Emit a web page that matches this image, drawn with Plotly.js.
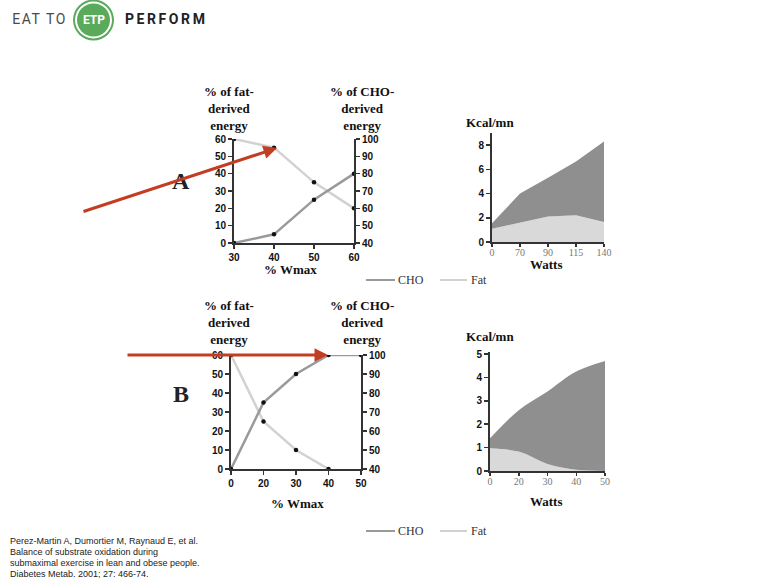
<!DOCTYPE html>
<html><head><meta charset="utf-8">
<script src="https://cdn.plot.ly/plotly-3.0.1.min.js"></script>
<style>
html,body{margin:0;padding:0;background:#fff;}
#chart{width:770px;height:579px;}
g.annotation[data-index="0"] text{letter-spacing:1.6px;}
g.annotation[data-index="2"] text{letter-spacing:2.6px;}
</style>
</head><body><div id="chart"></div>
<script>
// ---- data ----
const lineA_x = [30, 40, 50, 60];
const lineA_fat = [60, 55, 35, 20];
const lineA_cho = [40, 45, 65, 80];

const lineB_x = ['0', '20', '30', '40', '50'];
const lineB_fat = [60, 25, 10, 0];
const lineB_cho = [40, 75, 90, 100, 100];

const areaA_x = ['0', '70', '90', '115', '140'];
const areaA_fat = [1.1, 1.6, 2.1, 2.2, 1.65];
const areaA_cho = [0.45, 2.4, 3.2, 4.45, 6.65];

const areaB_x = ['0', '20', '30', '40', '50'];
const areaB_fat = [0.97, 0.83, 0.3, 0.05, 0];
const areaB_cho = [0.43, 1.77, 3.1, 4.2, 4.7];

const fatTicks = [0, 10, 20, 30, 40, 50, 60];
const choTicks = [40, 50, 60, 70, 80, 90, 100];
const lineA_ticks = [30, 40, 50, 60];
const areaA_yticks = [0, 2, 4, 6, 8];
const areaB_yticks = [0, 1, 2, 3, 4, 5];

const citation = [
  'Perez-Martin A, Dumortier M, Raynaud E, et al.',
  'Balance of substrate oxidation during',
  'submaximal exercise in lean and obese people.',
  'Diabetes Metab. 2001; 27: 466-74.'
];

// ---- helpers ----
const W = 770, H = 579;
const px = v => v / W;
const py = v => 1 - v / H;
const FAT = '#d2d2d2', CHO = '#9a9a9a', DARKFILL = '#8f8f8f', LIGHTFILL = '#d9d9d9';
const tickFont = {family: 'Liberation Sans, Arial, sans-serif', size: 10, color: '#111', weight: 'bold'};
const serifB = {family: 'Liberation Serif, Times New Roman, serif', size: 13, color: '#111', weight: 'bold'};

function axisBase(extra) {
  return Object.assign({
    showline: true, linecolor: '#333', linewidth: 2, ticks: 'outside', ticklen: 4,
    tickwidth: 1.5, tickcolor: '#333', showgrid: false, zeroline: false,
    tickfont: tickFont, fixedrange: true
  }, extra);
}

const mk = {color: '#111', size: 4.5};
const traces = [
  {x: lineA_x, y: lineA_fat, xaxis: 'x', yaxis: 'y', mode: 'lines+markers',
   line: {color: FAT, width: 2.5}, marker: mk, hoverinfo: 'skip'},
  {x: lineA_x, y: lineA_cho, xaxis: 'x', yaxis: 'y2', mode: 'lines+markers',
   line: {color: CHO, width: 2.5}, marker: mk, hoverinfo: 'skip'},
  {x: lineB_x.slice(0, lineB_fat.length), y: lineB_fat, xaxis: 'x2', yaxis: 'y3', mode: 'lines+markers',
   line: {color: FAT, width: 2.5}, marker: mk, hoverinfo: 'skip'},
  {x: lineB_x, y: lineB_cho, xaxis: 'x2', yaxis: 'y4', mode: 'lines+markers',
   line: {color: CHO, width: 2.5}, marker: mk, hoverinfo: 'skip'},
  {x: areaA_x, y: areaA_fat, xaxis: 'x3', yaxis: 'y5', stackgroup: 'a', mode: 'lines',
   line: {width: 0, color: LIGHTFILL}, fillcolor: LIGHTFILL, hoverinfo: 'skip'},
  {x: areaA_x, y: areaA_cho, xaxis: 'x3', yaxis: 'y5', stackgroup: 'a', mode: 'lines',
   line: {width: 0, color: DARKFILL}, fillcolor: DARKFILL, hoverinfo: 'skip'},
  {x: areaB_x, y: areaB_fat, xaxis: 'x4', yaxis: 'y6', stackgroup: 'b', mode: 'lines',
   line: {width: 0, color: LIGHTFILL, shape: 'spline'}, fillcolor: LIGHTFILL, hoverinfo: 'skip'},
  {x: areaB_x, y: areaB_cho, xaxis: 'x4', yaxis: 'y6', stackgroup: 'b', mode: 'lines',
   line: {width: 0, color: DARKFILL, shape: 'spline'}, fillcolor: DARKFILL, hoverinfo: 'skip'}
];

function ann(o) { return Object.assign({xref: 'paper', yref: 'paper', showarrow: false, xanchor: 'center', yanchor: 'middle'}, o); }
const legFont = {family: 'Liberation Serif, serif', size: 12, color: '#333'};
const annotations = [
  ann({text: 'EAT TO', x: px(39.5), y: py(19),
   font: {family: 'Roboto, Liberation Sans, sans-serif', size: 14, color: '#4a4a4a'}}),
  ann({text: 'ETP', x: px(93.5), y: py(20),
   font: {family: 'Roboto, Liberation Sans, sans-serif', size: 12, color: '#fff', weight: 'bold'}}),
  ann({text: 'PERFORM', x: px(166), y: py(19),
   font: {family: 'Roboto, Liberation Sans, sans-serif', size: 14, color: '#222', weight: 'bold'}}),
  ann({text: '% of fat-<br>derived<br>energy', x: px(229), y: py(108.5), font: serifB}),
  ann({text: '% of CHO-<br>derived<br>energy', x: px(362), y: py(108.5), font: serifB}),
  ann({text: '% Wmax', x: px(290), y: py(269), font: serifB}),
  ann({text: 'Kcal/mn', x: px(490), y: py(122), font: serifB}),
  ann({text: 'Watts', x: px(546), y: py(264), font: serifB}),
  ann({text: '% of fat-<br>derived<br>energy', x: px(229), y: py(322), font: serifB}),
  ann({text: '% of CHO-<br>derived<br>energy', x: px(362), y: py(322), font: serifB}),
  ann({text: '% Wmax', x: px(297), y: py(503), font: serifB}),
  ann({text: 'Kcal/mn', x: px(490), y: py(336), font: serifB}),
  ann({text: 'Watts', x: px(546), y: py(501), font: serifB}),
  ann({text: 'A', x: px(181), y: py(181), font: {family: 'Liberation Serif, serif', size: 24, color: '#222', weight: 'bold'}}),
  ann({text: 'B', x: px(181), y: py(394), font: {family: 'Liberation Serif, serif', size: 24, color: '#222', weight: 'bold'}}),
  ann({text: 'CHO', x: px(396), y: py(280), xanchor: 'left', font: legFont}),
  ann({text: 'Fat', x: px(469), y: py(280), xanchor: 'left', font: legFont}),
  ann({text: 'CHO', x: px(396), y: py(531), xanchor: 'left', font: legFont}),
  ann({text: 'Fat', x: px(469), y: py(531), xanchor: 'left', font: legFont}),
  ann({text: '', x: px(277), y: py(148), showarrow: true, axref: 'pixel', ayref: 'pixel', ax: -195, ay: 64,
   arrowcolor: '#c33d23', arrowwidth: 3, arrowhead: 2, arrowsize: 0.9, standoff: 0}),
  ann({text: '', x: px(328), y: py(355), showarrow: true, axref: 'pixel', ayref: 'pixel', ax: -202, ay: 0,
   arrowcolor: '#c33d23', arrowwidth: 3, arrowhead: 2, arrowsize: 0.9, standoff: 0})
];
const citeY = [541, 552, 563, 573.5];
citation.forEach((t, i) => annotations.push(ann({
  text: t, x: px(9), y: py(citeY[i]), xanchor: 'left', borderpad: 0,
  font: {family: 'Liberation Sans, Arial, sans-serif', size: 9, color: '#222'}
})));

const shapes = [
  {type: 'circle', xref: 'paper', yref: 'paper', x0: px(73), x1: px(114), y0: py(40.5), y1: py(-0.5), fillcolor: '#5aaa5c', line: {width: 0}},
  {type: 'circle', xref: 'paper', yref: 'paper', x0: px(75), x1: px(112), y0: py(38.5), y1: py(1.5), fillcolor: '#ffffff', line: {width: 0}},
  {type: 'circle', xref: 'paper', yref: 'paper', x0: px(77), x1: px(110), y0: py(36.5), y1: py(3.5), fillcolor: '#5aaa5c', line: {width: 0}},
  {type: 'line', xref: 'paper', yref: 'paper', x0: px(366), x1: px(395), y0: py(280), y1: py(280), line: {color: CHO, width: 2}},
  {type: 'line', xref: 'paper', yref: 'paper', x0: px(440), x1: px(467), y0: py(280), y1: py(280), line: {color: FAT, width: 2}},
  {type: 'line', xref: 'paper', yref: 'paper', x0: px(366), x1: px(395), y0: py(531), y1: py(531), line: {color: CHO, width: 2}},
  {type: 'line', xref: 'paper', yref: 'paper', x0: px(440), x1: px(467), y0: py(531), y1: py(531), line: {color: FAT, width: 2}}
];

const areaXFont = {family: 'Liberation Serif, serif', size: 10, color: '#777'};

const layout = {
  width: W, height: H, margin: {l: 0, r: 0, t: 0, b: 0},
  paper_bgcolor: '#fff', plot_bgcolor: 'rgba(0,0,0,0)', showlegend: false,
  xaxis: axisBase({domain: [px(234), px(354)], range: [30, 60], anchor: 'y', tickvals: lineA_ticks}),
  yaxis: axisBase({domain: [py(243), py(139)], range: [0, 60], anchor: 'x', tickvals: fatTicks}),
  yaxis2: axisBase({overlaying: 'y', side: 'right', anchor: 'x', range: [40, 100], tickvals: choTicks}),
  xaxis2: axisBase({domain: [px(231), px(361)], type: 'category', categoryarray: lineB_x, range: [0, 4], anchor: 'y3'}),
  yaxis3: axisBase({domain: [py(469), py(355)], range: [0, 60], anchor: 'x2', tickvals: fatTicks}),
  yaxis4: axisBase({overlaying: 'y3', side: 'right', anchor: 'x2', range: [40, 100], tickvals: choTicks}),
  xaxis3: axisBase({domain: [px(492), px(604)], type: 'category', categoryarray: areaA_x, range: [0, 4], anchor: 'y5',
    tickfont: areaXFont, ticklen: 3, ticklabelstandoff: -3}),
  yaxis5: axisBase({domain: [py(242), py(133)], range: [0, 9], anchor: 'x3', tickvals: areaA_yticks}),
  xaxis4: axisBase({domain: [px(490), px(605)], type: 'category', categoryarray: areaB_x, range: [0, 4], anchor: 'y6',
    tickfont: areaXFont, ticklen: 3, ticklabelstandoff: -3}),
  yaxis6: axisBase({domain: [py(471), py(351.7)], range: [0, 5.1], anchor: 'x4', tickvals: areaB_yticks}),
  annotations: annotations,
  shapes: shapes
};

Plotly.newPlot('chart', traces, layout, {staticPlot: true, displayModeBar: false});
</script>
</body></html>
